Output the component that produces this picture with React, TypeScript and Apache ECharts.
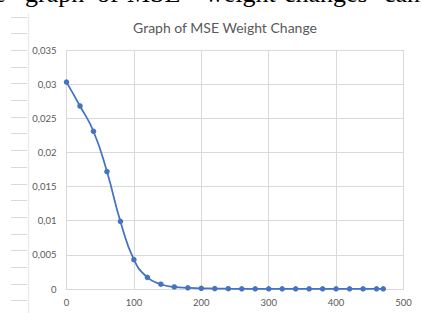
import React, { useEffect, useRef } from "react";
import * as echarts from "echarts";

const titleText = "Graph of MSE Weight Change";
const xValues = [0, 20, 40, 60, 80, 100, 120, 140, 160, 180, 200, 220, 240, 260, 280, 300, 320, 340, 360, 380, 400, 420, 440, 460, 470];
const mseValues = [
  0.0303, 0.0268, 0.0231, 0.0172, 0.0099, 0.0043, 0.0017, 0.0007, 0.0003, 0.00018,
  0.0001, 0.00007, 0.00004, 0.00003, 0.00003, 0.00003, 0.00003, 0.00003, 0.00003, 0.00003,
  0.00003, 0.00003, 0.00003, 0.00003, 0.00003,
];
const xTicks = { min: 0, max: 500, interval: 100 };
const yTicks = { min: 0, max: 0.035, interval: 0.005 };
const headerWords = ["the", "graph", "of", "MSE", "weight", "changes", "can"];

export default function App() {
  const ref = useRef<HTMLDivElement>(null);
  useEffect(() => {
    if (!ref.current) return;
    const chart = echarts.init(ref.current, null, { renderer: "svg" });
    const wordX = [-26, 25, 97, 127, 205, 284, 384];
    const graphics: any[] = [];
    headerWords.forEach((w, i) => {
      graphics.push({
        type: "text",
        x: wordX[i],
        y: -7,
        silent: true,
        style: {
          text: w,
          font: "26px 'Liberation Serif'",
          fill: "#000",
          verticalAlign: "middle",
          align: "left",
        },
      });
    });
    for (let k = 0; k < 18; k++) {
      const y = Math.round(16.7 + k * 16.68) + 0.5;
      graphics.push({
        type: "line",
        silent: true,
        shape: { x1: 11, y1: y, x2: 27, y2: y },
        style: { stroke: "#d9d9d9", lineWidth: 1 },
      });
    }
    graphics.push({
      type: "line",
      silent: true,
      shape: { x1: 28.5, y1: 14, x2: 28.5, y2: 313 },
      style: { stroke: "#ebebeb", lineWidth: 1.5 },
    });
    graphics.push({
      type: "text",
      x: 225,
      y: 27,
      silent: true,
      style: {
        text: titleText,
        font: "14px Lato",
        fill: "#595959",
        align: "center",
        verticalAlign: "middle",
      },
    });

    chart.setOption({
      animation: false,
      backgroundColor: "#ffffff",
      graphic: graphics,
      grid: { left: 66.5, right: 18.5, top: 50, bottom: 24, containLabel: false },
      xAxis: {
        type: "value",
        min: xTicks.min,
        max: xTicks.max,
        interval: xTicks.interval,
        axisLine: { show: true, lineStyle: { color: "#d9d9d9", width: 1 } },
        axisTick: { show: false },
        axisLabel: { color: "#595959", fontFamily: "Lato", fontSize: 9.5, margin: 8 },
        splitLine: { show: true, lineStyle: { color: "#d9d9d9", width: 1 } },
      },
      yAxis: {
        type: "value",
        min: yTicks.min,
        max: yTicks.max,
        interval: yTicks.interval,
        axisLine: { show: false },
        axisTick: { show: false },
        axisLabel: {
          color: "#595959",
          fontFamily: "Lato",
          fontSize: 9.5,
          margin: 10,
          formatter: (v: number) => String(Number(v.toFixed(4))).replace(".", ","),
        },
        splitLine: { show: true, lineStyle: { color: "#d9d9d9", width: 1 } },
      },
      series: [
        {
          type: "line",
          data: xValues.map((x, i) => [x, mseValues[i]]),
          smooth: true,
          symbol: "circle",
          symbolSize: 5.5,
          itemStyle: { color: "#4472C4" },
          lineStyle: { color: "#4472C4", width: 1.75 },
        },
      ],
    });
    return () => chart.dispose();
  }, []);
  return (
    <div
      ref={ref}
      style={{ position: "fixed", left: 0, top: 0, width: 422, height: 313, background: "#fff" }}
    />
  );
}
